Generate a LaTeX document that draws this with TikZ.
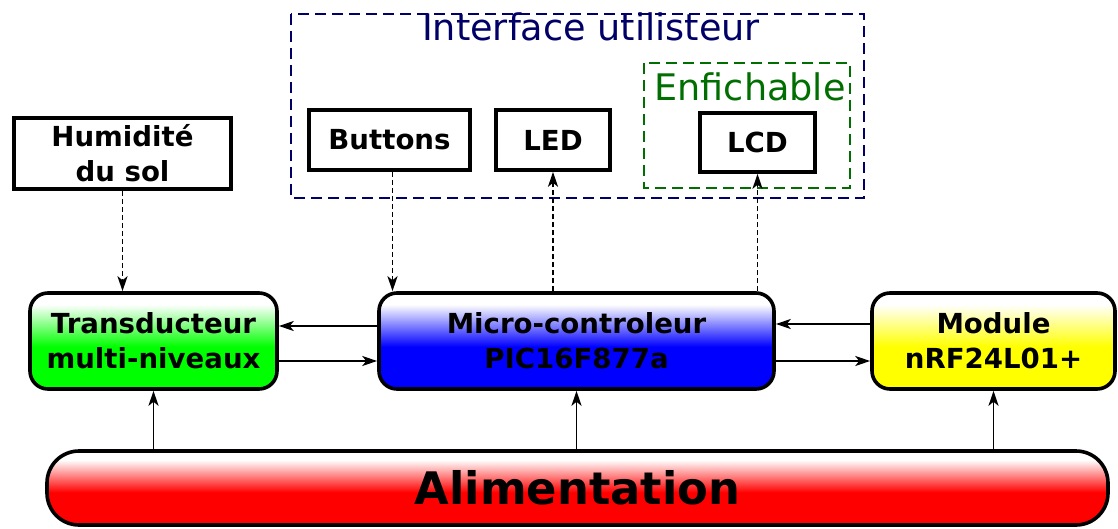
\documentclass[tikz,border=0pt]{standalone}
\usepackage{fontspec}
\setmainfont{DejaVu Sans}
\usetikzlibrary{arrows.meta}

\colorlet{uicolor}{blue!40!black}
\colorlet{plugcolor}{green!43!black}
\colorlet{fondcouleur}{white}
\pgfdeclareverticalshading[fondcouleur]{degrade}{100bp}{color(0bp)=(fondcouleur); color(47bp)=(fondcouleur); color(69bp)=(white); color(100bp)=(white)}

\tikzset{
  bloc/.style={draw, line width=1.8pt, inner sep=0pt, align=center,
    font=\fontsize{13.8}{17.5}\selectfont\bfseries},
  carte/.style={bloc, rounded corners=9pt, /utils/exec={\colorlet{fondcouleur}{#1}}, shade, shading=degrade},
  lien/.style={line width=0.85pt, -{Stealth[length=7.5pt,width=5pt,inset=2pt]}},
  liendash/.style={lien, dash pattern=on 2.5pt off 1.5pt},
  cadre/.style={line width=1.2pt, dash pattern=on 5.5pt off 3pt},
  titre/.style={anchor=base, font=\fontsize{18.3}{20}\selectfont},
}

\begin{document}
\begin{tikzpicture}[x=0.5pt, y=-0.5pt]
    \useasboundingbox (0,0) rectangle (1118,529);

    % Interface utilisateur
    \draw[cadre, uicolor] (291,14) rectangle (864,198);
    \node[titre, uicolor] (titreui) at (591,41) {Interface utilisteur};
    \draw[cadre, plugcolor] (644,63) rectangle (850,188);
    \node[titre, plugcolor] (titreenf) at (750,101) {Enfichable};
    \node[bloc, minimum width=80.5pt, minimum height=30pt] (btn) at (389.5,140) {Buttons};
    \node[bloc, minimum width=57pt, minimum height=30pt] (led) at (553,140) {LED};
    \node[bloc, minimum width=57.5pt, minimum height=29.5pt] (lcd) at (757.5,142.5) {LCD};

    % Capteur
    \node[bloc, minimum width=108.5pt, minimum height=35.5pt] (hum) at (122.5,153.5) {Humidité\\du sol};

    % Cartes
    \node[carte=green, minimum width=123.5pt, minimum height=48pt] (trans) at (153.5,341) {Transducteur\\multi-niveaux};
    \node[carte=blue, minimum width=197.5pt, minimum height=48pt] (mcu) at (576.5,341) {Micro-controleur\\PIC16F877a};
    \node[carte=yellow, minimum width=121.5pt, minimum height=48pt] (rf) at (993.5,341) {Module\\nRF24L01+};

    % Alimentation
    \node[carte=red, rounded corners=16pt, minimum width=530.5pt, minimum height=37pt,
      font=\fontsize{22.4}{26}\selectfont\bfseries] (alim) at (577.5,488) {Alimentation};

    % Liaisons
    \draw[liendash] (hum.south) -- (hum.south |- trans.north);
    \draw[liendash] ([xshift=1.5pt]btn.south) -- ([xshift=1.5pt]btn.south |- mcu.north);
    \draw[liendash] (led.south |- mcu.north) -- (led.south);
    \draw[liendash] (lcd.south |- mcu.north) -- (lcd.south);
    \draw[lien] ([yshift=7.5pt]mcu.west) -- ([yshift=7.5pt]mcu.west -| trans.east);
    \draw[lien] ([yshift=-10pt]trans.east) -- ([yshift=-10pt]trans.east -| mcu.west);
    \draw[lien] ([yshift=8.5pt]rf.west) -- ([yshift=8.5pt]rf.west -| mcu.east);
    \draw[lien] ([yshift=-10pt]mcu.east) -- ([yshift=-10pt]mcu.east -| rf.west);
    \foreach \cible in {trans, mcu, rf}
        \draw[lien] (\cible.south |- alim.north) -- (\cible.south);
\end{tikzpicture}
\end{document}
